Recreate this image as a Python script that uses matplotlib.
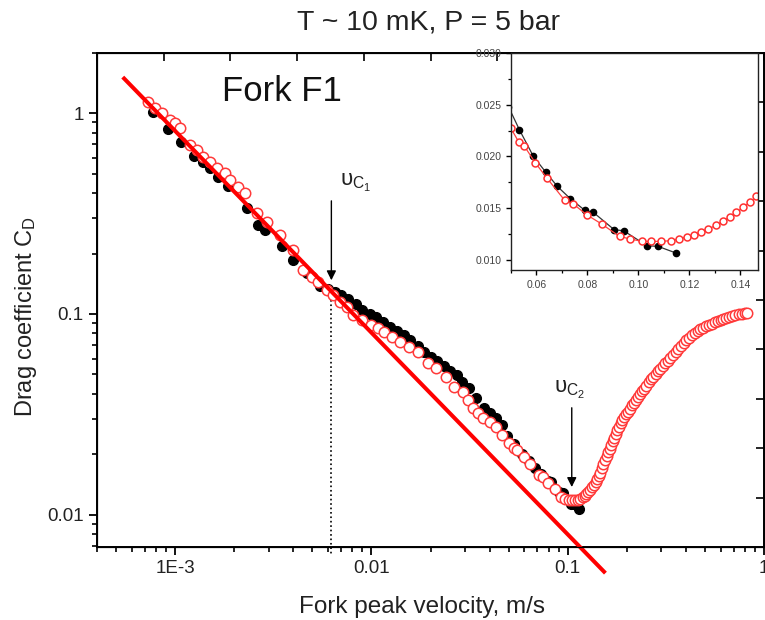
import matplotlib
matplotlib.use('Agg')
import matplotlib.pyplot as plt
from matplotlib.ticker import LogLocator, FixedLocator, MultipleLocator, NullFormatter, FuncFormatter

plt.rcParams['font.family'] = ['Liberation Sans', 'DejaVu Sans']
plt.rcParams['mathtext.fontset'] = 'custom'
plt.rcParams['mathtext.rm'] = 'Liberation Sans'
plt.rcParams['mathtext.it'] = 'Liberation Sans:italic'

# red open circles: fork velocity (m/s) and drag coefficient
red_v = [7.28e-4, 7.91e-4, 8.59e-4, 9.43e-4, 1.0e-3, 1.061e-3, 1.193e-3, 1.295e-3,
         1.39e-3, 1.51e-3, 1.64e-3, 1.80e-3, 1.91e-3, 2.10e-3, 2.27e-3, 2.62e-3,
         2.95e-3, 3.43e-3, 4.0e-3, 4.5e-3, 5.0e-3, 5.37e-3, 5.97e-3, 6.4e-3,
         6.95e-3, 7.55e-3, 8.1e-3, 9.0e-3, 9.89e-3, 0.01074, 0.01152, 0.0128,
         0.01406, 0.01545, 0.01718, 0.01932, 0.02123, 0.02388, 0.0262, 0.0291,
         0.0310, 0.0331, 0.0350, 0.0372, 0.0400, 0.0429, 0.0465, 0.0500, 0.0530,
         0.0552, 0.0596, 0.0641, 0.0711,
         0.0744, 0.0797, 0.0856, 0.0926, 0.0968, 0.1015, 0.1051, 0.1090, 0.1127,
         0.1160, 0.1190, 0.1217, 0.1245, 0.1274, 0.1305, 0.1331, 0.1358, 0.1385,
         0.1411, 0.1437, 0.1463, 0.1490, 0.152, 0.155, 0.158, 0.161, 0.164,
         0.167, 0.170, 0.173, 0.176, 0.179, 0.182, 0.186, 0.190, 0.194, 0.198,
         0.202, 0.207, 0.212, 0.217, 0.222, 0.227, 0.233, 0.239, 0.245, 0.251,
         0.258, 0.265, 0.272, 0.280, 0.288, 0.296, 0.305, 0.314, 0.323, 0.333,
         0.343, 0.354, 0.365, 0.377, 0.389, 0.402, 0.415, 0.429, 0.443, 0.458,
         0.473, 0.489, 0.506, 0.523, 0.541, 0.560, 0.580, 0.600, 0.621, 0.643,
         0.666, 0.690, 0.715, 0.741, 0.768, 0.795, 0.818]
red_cd = [1.134, 1.059, 1.0, 0.923, 0.892, 0.842, 0.693, 0.655,
          0.604, 0.570, 0.533, 0.503, 0.464, 0.428, 0.400, 0.318,
          0.287, 0.247, 0.208, 0.1656, 0.153, 0.144, 0.1316, 0.1243,
          0.1148, 0.1084, 0.0989, 0.0934, 0.0882, 0.0852, 0.0814, 0.0769,
          0.0726, 0.0685, 0.0647, 0.0571, 0.0539, 0.0486, 0.0433, 0.0409,
          0.0372, 0.0341, 0.0322, 0.0304, 0.0289, 0.0274, 0.0249, 0.0227, 0.0214,
          0.0210, 0.01935, 0.0179, 0.01573,
          0.0154, 0.01435, 0.01345, 0.01225, 0.0120, 0.01177, 0.01177, 0.01177, 0.01184,
          0.0120, 0.0122, 0.01239, 0.01268, 0.01297, 0.01332, 0.0137, 0.01413, 0.01458,
          0.01506, 0.01554, 0.01612, 0.0170, 0.0179, 0.0188, 0.0197, 0.0205, 0.0213,
          0.0222, 0.0232, 0.0242, 0.0252, 0.0263, 0.0274, 0.0285, 0.0296, 0.0306, 0.0316,
          0.0326, 0.0338, 0.0350, 0.0362, 0.0373, 0.0384, 0.0398, 0.0411, 0.0425, 0.0439,
          0.0456, 0.0472, 0.0488, 0.0504, 0.0519, 0.0535, 0.0552, 0.0568, 0.0584, 0.0603,
          0.0623, 0.0646, 0.0670, 0.0693, 0.0715, 0.0738, 0.0761, 0.0786, 0.0805, 0.0822,
          0.0838, 0.0853, 0.0868, 0.0882, 0.0895, 0.0908, 0.0920, 0.0932, 0.0944, 0.0956,
          0.0967, 0.0977, 0.0987, 0.0996, 0.1003, 0.1008, 0.1012]

# black filled circles
black_v = [7.72e-4, 9.21e-4, 1.073e-3, 1.25e-3, 1.39e-3, 1.51e-3, 1.657e-3, 1.86e-3,
           2.33e-3, 2.65e-3, 2.88e-3, 3.51e-3, 4.0e-3, 4.7e-3, 5.49e-3, 6.0e-3,
           6.55e-3, 7.0e-3, 7.63e-3, 8.3e-3, 9.0e-3, 9.8e-3, 0.01061, 0.0115,
           0.0125, 0.0135, 0.01457, 0.0158, 0.01717, 0.0185, 0.0200, 0.0215,
           0.0233, 0.0250, 0.0272, 0.0290, 0.0313, 0.0340, 0.0373, 0.0400,
           0.0429, 0.0460, 0.0490, 0.0533, 0.0588, 0.0636, 0.0682, 0.0733,
           0.0790, 0.0823, 0.0905, 0.0942, 0.1034, 0.1077, 0.1147]
black_cd = [1.01, 0.833, 0.717, 0.611, 0.570, 0.533, 0.481, 0.433,
            0.337, 0.277, 0.262, 0.218, 0.186, 0.160, 0.138, 0.133,
            0.1286, 0.124, 0.1188, 0.112, 0.1047, 0.100, 0.0966, 0.091,
            0.0862, 0.082, 0.0787, 0.074, 0.0693, 0.065, 0.0611, 0.058,
            0.0551, 0.052, 0.0497, 0.046, 0.0428, 0.038, 0.0341, 0.032,
            0.0304, 0.0280, 0.0248, 0.02257, 0.01999, 0.01848, 0.01709, 0.0159,
            0.01477, 0.01458, 0.0129, 0.0128, 0.01135, 0.01129, 0.01065]

# 1/v fit line end points
fit_v = [5.5e-4, 0.153]
fit_cd = [1.49, 0.0052]

# critical velocities
vc1, vc1_cd = 0.00625, 0.1426
vc2, vc2_cd = 0.1048, 0.0133

fig = plt.figure(figsize=(7.65, 6.2), dpi=100)
ax = fig.add_axes([0.1268, 0.1177, 0.872, 0.797])

ax.plot(black_v, black_cd, 'o', color='black', ms=7, zorder=2)
ax.plot(red_v, red_cd, 'o', mfc='white', mec='#ff3a3a', mew=1.1, ms=7.5, zorder=3)
ax.plot(fit_v, fit_cd, '-', color='#ff0000', lw=2.9, zorder=4, clip_on=False)

ax.set_xscale('log')
ax.set_yscale('log')
ax.set_xlim(4e-4, 1.0)
ax.set_ylim(0.0069, 2.0)

def fmt(x, pos):
    if abs(x - 1e-3) < 1e-9:
        return '1E-3'
    if abs(x - 0.01) < 1e-9:
        return '0.01'
    if abs(x - 0.1) < 1e-9:
        return '0.1'
    if abs(x - 1) < 1e-9:
        return '1'
    return ''

ax.xaxis.set_major_locator(LogLocator(base=10, numticks=10))
ax.yaxis.set_major_locator(LogLocator(base=10, numticks=10))
ax.xaxis.set_minor_locator(LogLocator(base=10, subs=range(2, 10), numticks=20))
ax.yaxis.set_minor_locator(LogLocator(base=10, subs=range(2, 10), numticks=20))
ax.xaxis.set_major_formatter(FuncFormatter(fmt))
ax.yaxis.set_major_formatter(FuncFormatter(fmt))
ax.xaxis.set_minor_formatter(NullFormatter())
ax.yaxis.set_minor_formatter(NullFormatter())
ax.tick_params(which='major', direction='out', length=6, width=1.3, labelsize=13.5,
               labelcolor='#222222', top=False, right=False)
ax.tick_params(which='minor', direction='out', length=3.5, width=1.2, top=False, right=False)
for s in ax.spines.values():
    s.set_linewidth(1.4)

# linear ticks on top and right edges
tx = ax.twiny()
tx.set_xlim(0, 1)
tx.xaxis.set_major_locator(MultipleLocator(0.1))
tx.tick_params(axis='x', direction='in', length=6, width=1.2, labeltop=False)
ty = ax.twinx()
ty.set_ylim(0, 1)
ty.yaxis.set_major_locator(FixedLocator([0.1, 0.2, 0.3, 0.4, 0.5, 0.6, 0.7, 0.8, 0.9]))
ty.tick_params(axis='y', direction='in', length=6, width=1.2, labelright=False)

ax.set_xlabel('Fork peak velocity, m/s', fontsize=17.5, color='#222222')
ax.xaxis.set_label_coords(0.487, -0.099)
ax.set_ylabel(r'Drag coefficient C$_\mathrm{D}$', fontsize=17, color='#222222')
ax.yaxis.set_label_coords(-0.087, 0.466)
fig.text(0.56, 0.963, 'T ~ 10 mK, P = 5 bar', fontsize=20.5, ha='center', va='center',
         color='#222222')
ax.text(0.187, 0.921, 'Fork F1', transform=ax.transAxes, fontsize=25, ha='left',
        va='center', color='#111111')

# critical velocity markers
ax.plot([vc1, vc1], [0.1174, 0.0064], ':', color='black', lw=1.2, clip_on=False)
ax.annotate('', xy=(vc1, vc1_cd), xytext=(vc1, 0.378),
            arrowprops=dict(arrowstyle='-|>', color='black', lw=1.0, mutation_scale=14))
ax.text(0.0069, 0.45, r'υ$_{\mathrm{C}_1}$', fontsize=16, ha='left', va='center', color='#222222')
ax.annotate('', xy=(vc2, vc2_cd), xytext=(vc2, 0.0352),
            arrowprops=dict(arrowstyle='-|>', color='black', lw=1.0, mutation_scale=14))
ax.text(0.102, 0.0419, r'υ$_{\mathrm{C}_2}$', fontsize=16, ha='center', va='center', color='#222222')

# inset: linear zoom near the minimum
ins = fig.add_axes([0.668, 0.5645, 0.323, 0.35], zorder=5)
ins.plot(black_v, black_cd, '-o', color='#333333', mfc='black', mec='black', ms=4.5, lw=0.9)
ins.plot(red_v, red_cd, '-o', color='#ff4040', mfc='white', mec='#ff3030', ms=5, mew=1.1, lw=0.9)
ins.set_xlim(0.05, 0.147)
ins.set_ylim(0.009, 0.030)
ins.xaxis.set_major_locator(MultipleLocator(0.02))
ins.xaxis.set_minor_locator(MultipleLocator(0.01))
ins.yaxis.set_major_locator(MultipleLocator(0.005))
ins.yaxis.set_minor_locator(MultipleLocator(0.0025))
ins.xaxis.set_major_formatter(FuncFormatter(lambda x, p: f'{x:.2f}'))
ins.yaxis.set_major_formatter(FuncFormatter(lambda y, p: f'{y:.3f}'))
ins.tick_params(which='major', direction='out', length=3.5, width=1.0, labelsize=7.5,
                labelcolor='#444444')
ins.tick_params(which='minor', direction='out', length=2, width=0.9)
for s in ins.spines.values():
    s.set_linewidth(1.0)
    s.set_color('#222222')

fig.savefig('out.png', dpi=100)
